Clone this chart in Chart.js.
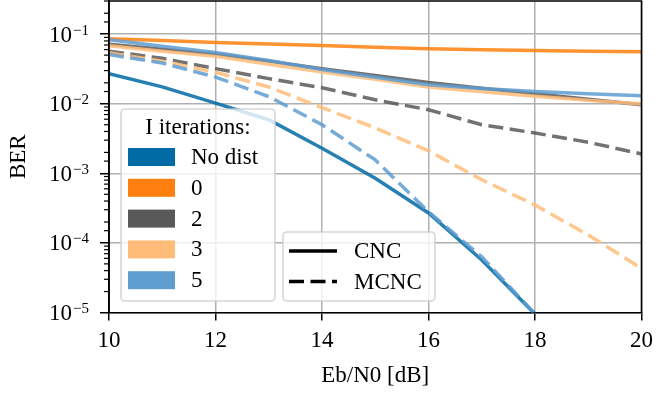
<!DOCTYPE html>
<html>
<head>
<meta charset="utf-8">
<script src="https://cdn.jsdelivr.net/npm/chart.js@4/dist/chart.umd.min.js"></script>
<style>
  html, body { margin: 0; padding: 0; background: #fff; }
</style>
</head>
<body>
<canvas id="ber" width="660" height="394"></canvas>
<script>
const ebN0 = [10, 11, 12, 13, 14, 15, 16, 17, 18, 19, 20];

// CNC curves (solid)
const berNoDist = [0.027, 0.0175, 0.0102, 0.0059, 0.0023, 0.00085, 0.00027, 0.000057, 0.0000095, null, null];
const berCnc0 = [0.086, 0.081, 0.076, 0.072, 0.069, 0.065, 0.062, 0.060, 0.0585, 0.057, 0.056];
const berCnc2 = [0.072, 0.061, 0.052, 0.041, 0.032, 0.0255, 0.0202, 0.0167, 0.0139, 0.0116, 0.0097];
const berCnc3 = [0.068, 0.057, 0.048, 0.037, 0.0286, 0.0225, 0.0174, 0.0149, 0.0128, 0.0112, 0.0099];
const berCnc5 = [0.083, 0.067, 0.0547, 0.042, 0.031, 0.024, 0.0188, 0.0166, 0.0150, 0.0139, 0.0130];

// MCNC curves (dashed)
const berMcnc2 = [0.057, 0.045, 0.032, 0.023, 0.017, 0.0114, 0.0082, 0.0050, 0.0038, 0.0028, 0.0019];
const berMcnc3 = [0.054, 0.041, 0.0284, 0.0174, 0.0088, 0.0045, 0.0021, 0.00081, 0.00035, 0.00013, 0.000043];
const berMcnc5 = [0.051, 0.0385, 0.0242, 0.0127, 0.0050, 0.00156, 0.00028, 0.000063, 0.0000095, null, null];

const iterLabels = ['No dist', '0', '2', '3', '5'];
const iterColors = ['#006BA4', '#FF800E', '#595959', '#FFBC79', '#5F9ED1'];
const styleLabels = ['CNC', 'MCNC'];

const xTicks = [10, 12, 14, 16, 18, 20];
const yTickValues = [1e-5, 1e-4, 1e-3, 1e-2, 1e-1];
const yTickExps = ['\u22125', '\u22124', '\u22123', '\u22122', '\u22121'];

const FAMILY = '"Liberation Serif", "Times New Roman", serif';
const MAIN_FONT = '23px ' + FAMILY;
const SUP_FONT = '15px ' + FAMILY;
const DASH = [15, 6.5];
const LINE_W = 3.5;
const LINE_ALPHA = 'D9'; // ~0.85

Chart.defaults.font.family = FAMILY;
Chart.defaults.font.size = 23;
Chart.defaults.color = '#000';

function series(values, color, dashed) {
  return {
    data: ebN0.map((x, i) => ({ x: x, y: values[i] })),
    borderColor: color + LINE_ALPHA,
    borderWidth: LINE_W,
    borderDash: dashed ? DASH : [],
    borderCapStyle: 'butt',
    fill: false,
    pointRadius: 0,
    tension: 0
  };
}

var datasets = [
  series(berNoDist, iterColors[0], false),
  series(berCnc0, iterColors[1], false),
  series(berCnc2, iterColors[2], false),
  series(berMcnc2, iterColors[2], true),
  series(berCnc3, iterColors[3], false),
  series(berMcnc3, iterColors[3], true),
  series(berCnc5, iterColors[4], false),
  series(berMcnc5, iterColors[4], true)
];
// later curves on top
datasets.forEach((d, i) => { d.order = datasets.length - i; });

function isDecade(v) {
  const l = Math.log10(v);
  return Math.abs(l - Math.round(l)) < 1e-9;
}

function roundRect(ctx, x, y, w, h, r) {
  ctx.beginPath();
  ctx.moveTo(x + r, y);
  ctx.arcTo(x + w, y, x + w, y + h, r);
  ctx.arcTo(x + w, y + h, x, y + h, r);
  ctx.arcTo(x, y + h, x, y, r);
  ctx.arcTo(x, y, x + w, y, r);
  ctx.closePath();
}

function legendFrame(ctx, x, y, w, h) {
  roundRect(ctx, x, y, w, h, 4);
  ctx.fillStyle = 'rgba(255,255,255,0.8)';
  ctx.fill();
  ctx.strokeStyle = 'rgba(204,204,204,0.8)';
  ctx.lineWidth = 1.6;
  ctx.stroke();
}

// frame, minor ticks and log tick labels
const axesExtras = {
  id: 'axesExtras',
  afterDatasetsDraw(chart) {
    const { ctx, chartArea: a, scales: { y } } = chart;
    ctx.save();
    ctx.strokeStyle = '#000';
    ctx.lineWidth = 1.6;
    ctx.beginPath();
    ctx.moveTo(a.left, a.bottom);
    ctx.lineTo(a.left, a.top);
    ctx.lineTo(a.right, a.top);
    ctx.lineTo(a.right, a.bottom);
    ctx.stroke();

    ctx.lineWidth = 1.2;
    y.ticks.forEach(t => {
      if (isDecade(t.value)) return;
      const py = y.getPixelForValue(t.value);
      ctx.beginPath();
      ctx.moveTo(a.left - 5, py);
      ctx.lineTo(a.left, py);
      ctx.stroke();
    });

    ctx.fillStyle = '#000';
    ctx.textBaseline = 'alphabetic';
    ctx.textAlign = 'left';
    const right = a.left - 20;
    yTickValues.forEach((v, i) => {
      const py = y.getPixelForValue(v);
      ctx.font = SUP_FONT;
      const sw = ctx.measureText(yTickExps[i]).width;
      ctx.font = MAIN_FONT;
      const mw = ctx.measureText('10').width;
      ctx.fillText('10', right - sw - mw - 1, py + 7.5);
      ctx.font = SUP_FONT;
      ctx.fillText(yTickExps[i], right - sw, py + 0.5);
    });
    ctx.restore();
  }
};

// two legends: iteration colours and line styles
const legends = {
  id: 'legends',
  afterDraw(chart) {
    const { ctx, chartArea: a } = chart;
    ctx.save();
    ctx.textBaseline = 'middle';
    ctx.font = MAIN_FONT;

    // I iterations
    const lx = a.left + 12, ly = a.top + 108, lw = 154, lh = 192;
    legendFrame(ctx, lx, ly, lw, lh);
    ctx.fillStyle = '#000';
    ctx.textAlign = 'center';
    ctx.fillText('I iterations:', lx + lw / 2, ly + 19);
    ctx.textAlign = 'left';
    iterLabels.forEach((lab, i) => {
      const cy = ly + 48 + i * 30.8;
      ctx.fillStyle = iterColors[i];
      ctx.fillRect(lx + 7, cy - 9, 47, 18);
      ctx.fillStyle = '#000';
      ctx.fillText(lab, lx + 70, cy + 1);
    });

    // CNC / MCNC
    const sx = a.left + 174, sy = a.top + 231, sw = 152, sh = 69;
    legendFrame(ctx, sx, sy, sw, sh);
    styleLabels.forEach((lab, i) => {
      const cy = sy + 19 + i * 30.5;
      ctx.strokeStyle = '#000';
      ctx.lineWidth = LINE_W;
      ctx.setLineDash(i === 0 ? [] : DASH);
      ctx.beginPath();
      ctx.moveTo(sx + 6, cy);
      ctx.lineTo(sx + 54, cy);
      ctx.stroke();
      ctx.setLineDash([]);
      ctx.fillStyle = '#000';
      ctx.fillText(lab, sx + 71, cy + 1);
    });
    ctx.restore();
  }
};

new Chart(document.getElementById('ber').getContext('2d'), {
  type: 'line',
  data: { datasets: datasets },
  plugins: [axesExtras, legends],
  options: {
    responsive: false,
    animation: false,
    events: [],
    layout: { padding: { left: 0, right: 11, top: 1, bottom: 0 } },
    plugins: {
      legend: { display: false },
      tooltip: { enabled: false }
    },
    scales: {
      x: {
        type: 'linear',
        min: 10,
        max: 20,
        afterBuildTicks: s => { s.ticks = xTicks.map(v => ({ value: v })); },
        afterFit: s => { s.height = 81.5; },
        grid: { color: '#b0b0b0', lineWidth: 1.5, tickColor: '#000', tickWidth: 1.5, tickLength: 8 },
        border: { color: '#000', width: 1.6 },
        ticks: { font: { size: 23 }, color: '#000', padding: 7, maxRotation: 0, autoSkip: false },
        title: { display: true, text: 'Eb/N0 [dB]', font: { size: 23 }, color: '#000', padding: { top: 0, bottom: 4 } }
      },
      y: {
        type: 'logarithmic',
        min: 1e-5,
        max: 0.3,
        afterFit: s => { s.width = 109; },
        grid: {
          color: c => (c.tick && isDecade(c.tick.value)) ? '#b0b0b0' : 'rgba(0,0,0,0)',
          tickColor: c => (c.tick && isDecade(c.tick.value)) ? '#000' : 'rgba(0,0,0,0)',
          lineWidth: 1.5,
          tickWidth: 1.5,
          tickLength: 9
        },
        border: { color: '#000', width: 1.6 },
        ticks: { display: false },
        title: { display: true, text: 'BER', font: { size: 23 }, color: '#000', padding: { top: 5, bottom: 0 } }
      }
    }
  }
});
</script>
</body>
</html>
